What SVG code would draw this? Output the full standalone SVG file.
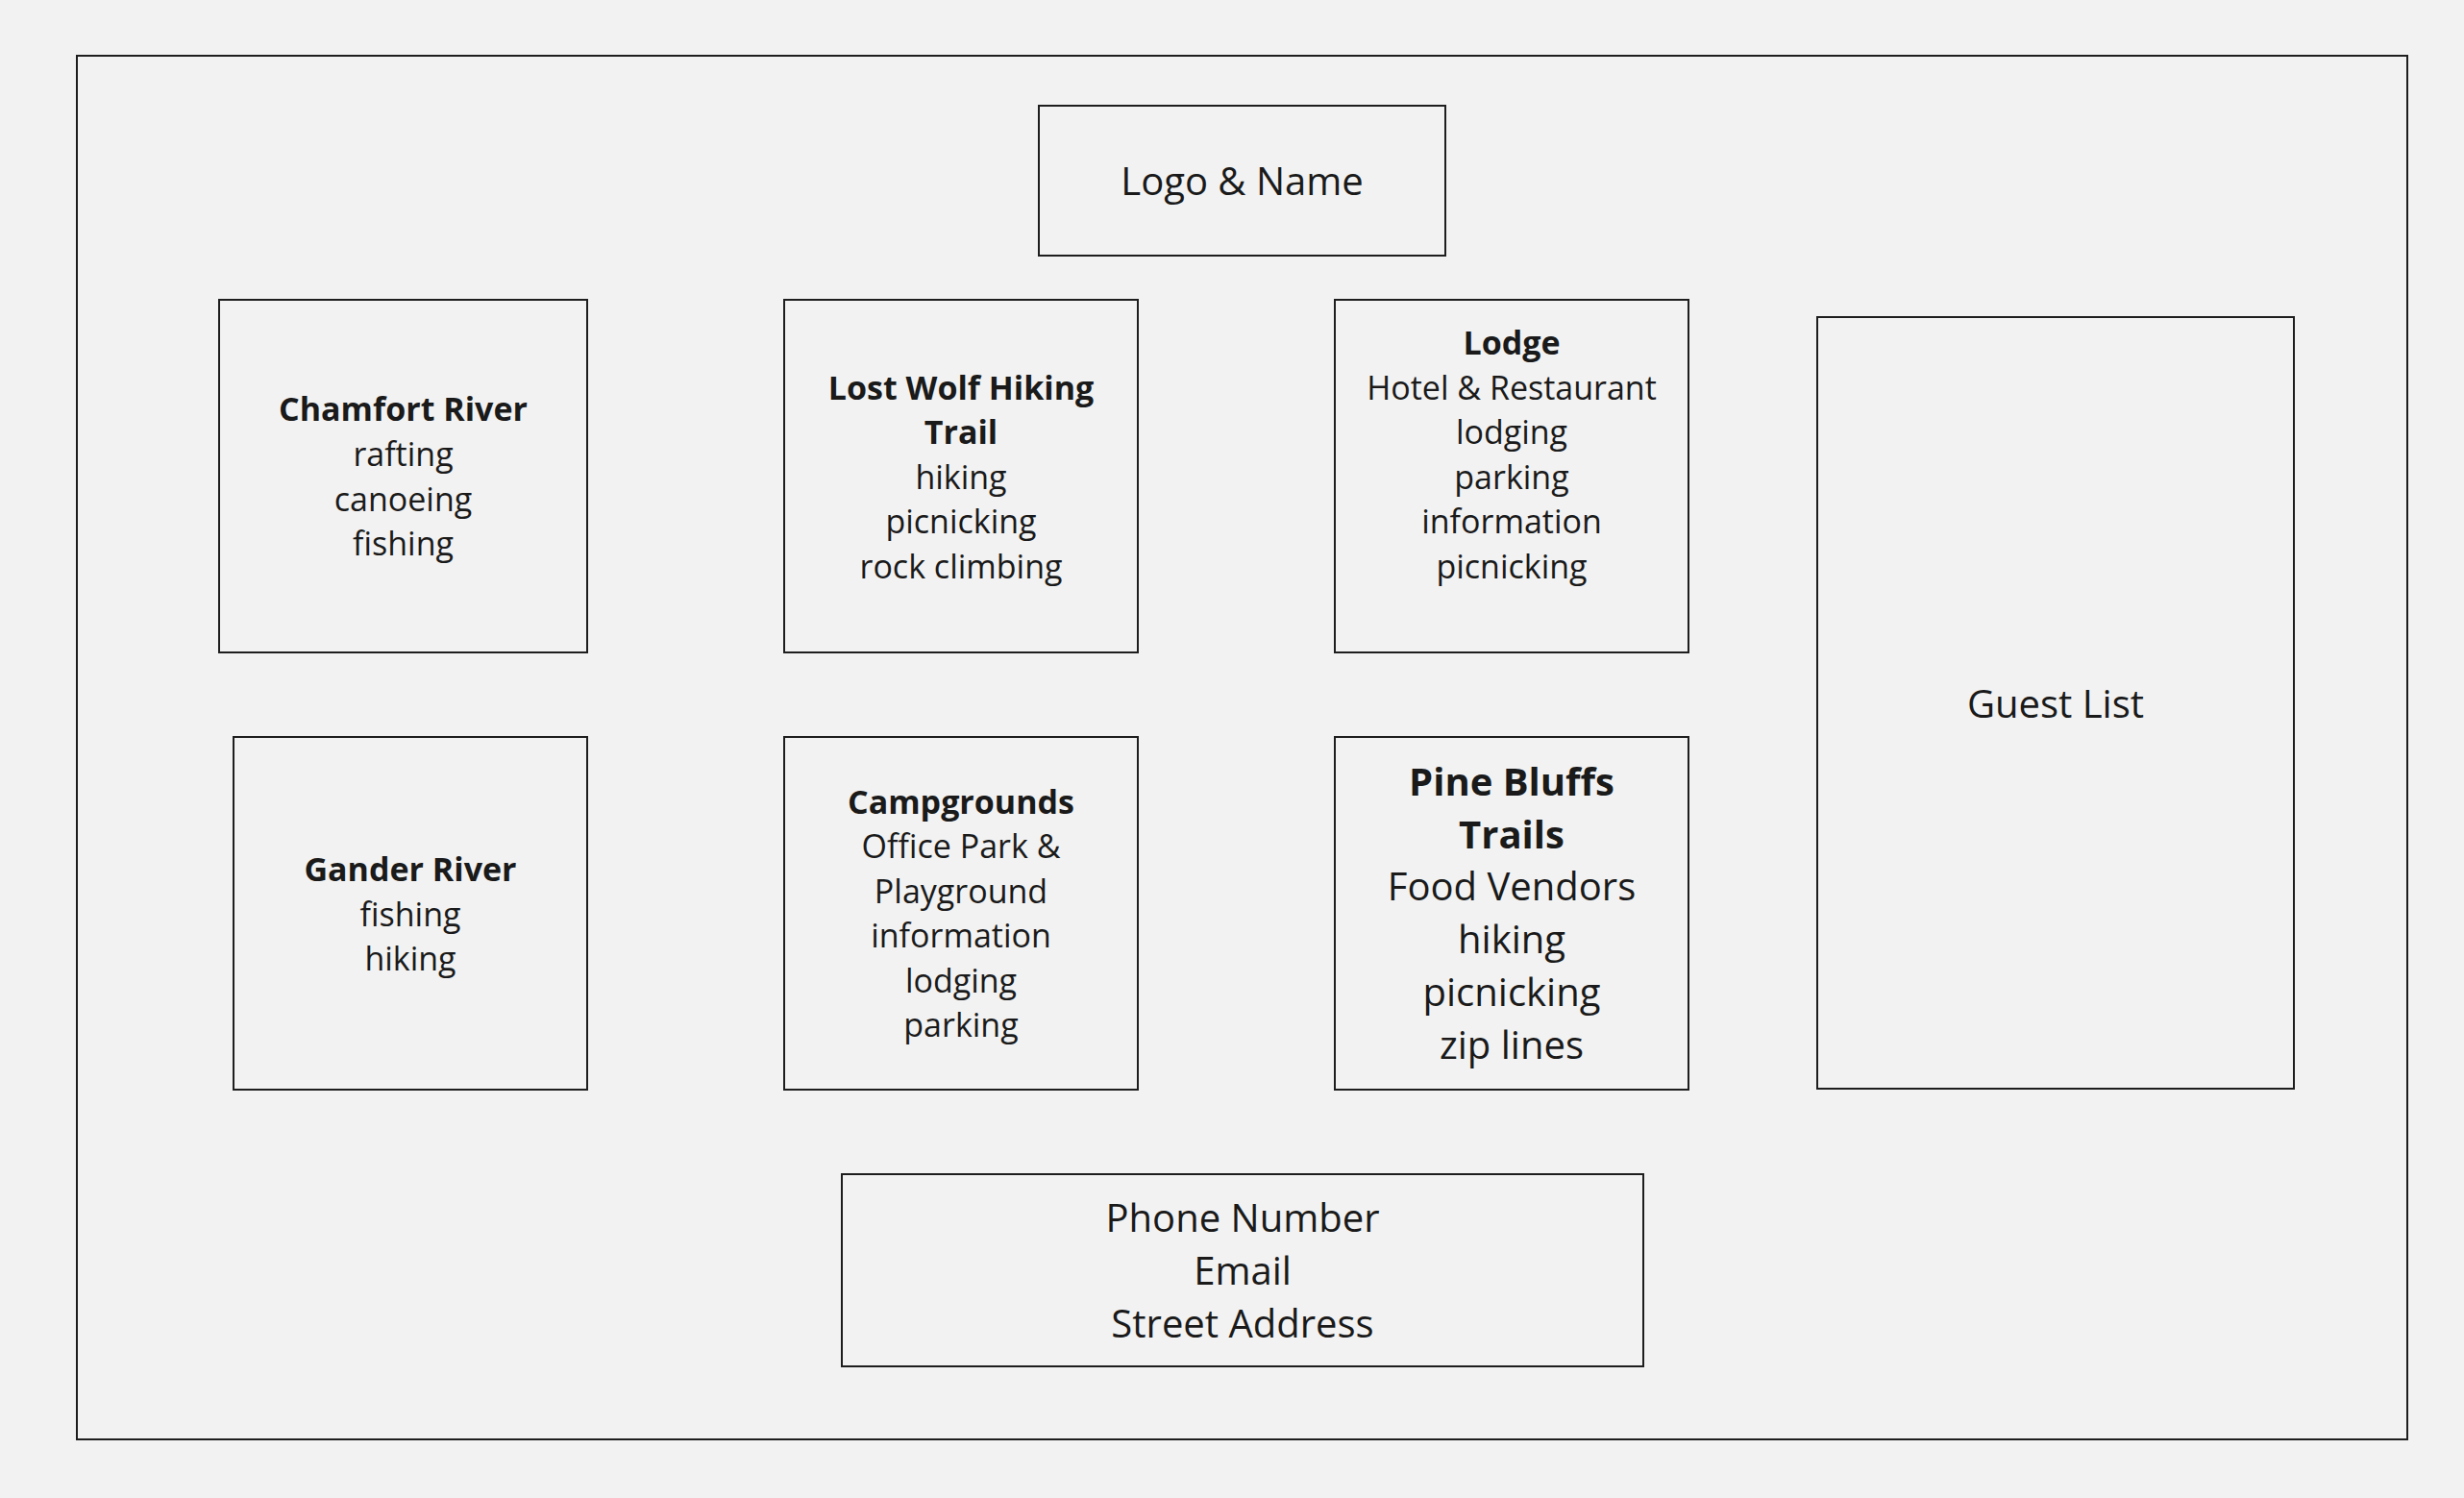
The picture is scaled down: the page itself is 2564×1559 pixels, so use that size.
<svg xmlns="http://www.w3.org/2000/svg" width="2564" height="1559" viewBox="0 0 2564 1559">
<style>
.box{fill:#f2f2f2;stroke:#1e1e1e;stroke-width:2}
text{font-family:"Open Sans","Noto Sans","Liberation Sans",sans-serif;fill:#1a1a1a;text-anchor:middle}
.s{font-size:34px}
.l{font-size:40px}
.b{font-weight:700}
</style>
<rect width="2564" height="1559" fill="#f2f2f2"/>
<g id="frame"><rect class="box" x="80" y="58" width="2425" height="1440"/></g>
<g id="logo">
<rect class="box" x="1081" y="110" width="423" height="156"/>
<text class="l" x="1292.5" y="203">Logo &amp; Name</text>
</g>
<g id="chamfort">
<rect class="box" x="228" y="312" width="383" height="367"/>
<text class="s"><tspan class="b" x="419.5" y="438">Chamfort River</tspan><tspan x="419.5" y="485">rafting</tspan><tspan x="419.5" y="531.5">canoeing</tspan><tspan x="419.5" y="578">fishing</tspan></text>
</g>
<g id="lostwolf">
<rect class="box" x="816" y="312" width="368" height="367"/>
<text class="s"><tspan class="b" x="1000" y="415.5">Lost Wolf Hiking</tspan><tspan class="b" x="1000" y="462">Trail</tspan><tspan x="1000" y="508.5">hiking</tspan><tspan x="1000" y="555">picnicking</tspan><tspan x="1000" y="601.5">rock climbing</tspan></text>
</g>
<g id="lodge">
<rect class="box" x="1389" y="312" width="368" height="367"/>
<text class="s"><tspan class="b" x="1573" y="369">Lodge</tspan><tspan x="1573" y="415.5">Hotel &amp; Restaurant</tspan><tspan x="1573" y="462">lodging</tspan><tspan x="1573" y="508.5">parking</tspan><tspan x="1573" y="555">information</tspan><tspan x="1573" y="601.5">picnicking</tspan></text>
</g>
<g id="gander">
<rect class="box" x="243" y="767" width="368" height="367"/>
<text class="s"><tspan class="b" x="427" y="917">Gander River</tspan><tspan x="427" y="963.5">fishing</tspan><tspan x="427" y="1010">hiking</tspan></text>
</g>
<g id="campgrounds">
<rect class="box" x="816" y="767" width="368" height="367"/>
<text class="s"><tspan class="b" x="1000" y="846.5">Campgrounds</tspan><tspan x="1000" y="893">Office Park &amp;</tspan><tspan x="1000" y="939.5">Playground</tspan><tspan x="1000" y="986">information</tspan><tspan x="1000" y="1032.5">lodging</tspan><tspan x="1000" y="1079">parking</tspan></text>
</g>
<g id="pinebluffs">
<rect class="box" x="1389" y="767" width="368" height="367"/>
<text class="l"><tspan class="b" x="1573" y="828">Pine Bluffs</tspan><tspan class="b" x="1573" y="883">Trails</tspan><tspan x="1573" y="937">Food Vendors</tspan><tspan x="1573" y="992">hiking</tspan><tspan x="1573" y="1046.5">picnicking</tspan><tspan x="1573" y="1101.5">zip lines</tspan></text>
</g>
<g id="guestlist">
<rect class="box" x="1891" y="330" width="496" height="803"/>
<text class="l" x="2139" y="747">Guest List</text>
</g>
<g id="contact">
<rect class="box" x="876" y="1222" width="834" height="200"/>
<text class="l"><tspan x="1293" y="1282">Phone Number</tspan><tspan x="1293" y="1337">Email</tspan><tspan x="1293" y="1392">Street Address</tspan></text>
</g>
<g id="connectors"/>
</svg>
